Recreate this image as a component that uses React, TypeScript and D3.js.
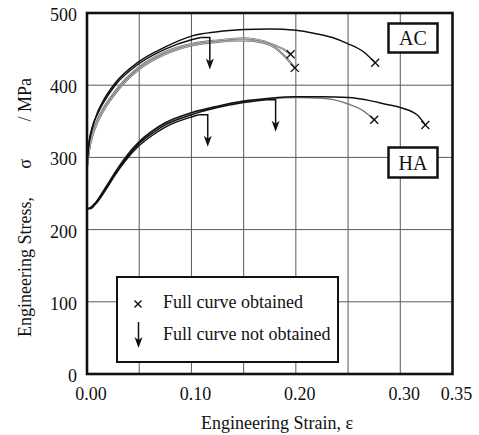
import React from "react";
import * as d3 from "d3";

type Pt = [number, number];

// ---- Data (strain, stress MPa) ----
const acFull1: Pt[] = [[0,292],[0.002,320],[0.005,340],[0.01,362],[0.015,377],[0.027,403],[0.049,432],[0.075,453],[0.1,468],[0.125,474],[0.15,477],[0.175,478],[0.2,476],[0.217,472],[0.235,466],[0.249,458],[0.265,446],[0.276,431]];
const acArrow1: Pt[] = [[0,295],[0.002,322],[0.005,342],[0.01,360],[0.015,374],[0.027,400],[0.049,429],[0.075,450],[0.1,463],[0.109,466]];
const acGray1: Pt[] = [[0,288],[0.002,312],[0.005,332],[0.01,352],[0.015,366],[0.03,397],[0.049,424],[0.075,446],[0.1,457],[0.125,462],[0.15,465],[0.169,461],[0.18,455],[0.188,450],[0.195,443]];
const acGray2: Pt[] = [[0,286],[0.002,310],[0.005,329],[0.01,349],[0.015,363],[0.03,394],[0.049,421],[0.075,443],[0.1,455],[0.125,460],[0.15,462],[0.169,459],[0.18,452],[0.192,436],[0.199,424]];

const haFull1: Pt[] = [[0,229],[0.003,230],[0.008,237],[0.017,256],[0.027,279],[0.036,298],[0.049,320],[0.062,336],[0.075,348],[0.1,362],[0.125,371],[0.15,378],[0.175,382],[0.2,384],[0.225,384],[0.25,383],[0.27,379],[0.285,374],[0.3,369],[0.316,359],[0.324,345]];
const haGray1: Pt[] = [[0,229],[0.003,230],[0.008,237],[0.017,257],[0.027,280],[0.036,299],[0.049,321],[0.062,336],[0.075,347],[0.1,361],[0.125,370],[0.15,377],[0.175,381],[0.2,383],[0.225,382],[0.236,380],[0.25,374],[0.265,364],[0.275,352]];
const haArrow1: Pt[] = [[0,229],[0.003,229],[0.008,235],[0.017,253],[0.027,276],[0.036,294],[0.049,315],[0.062,330],[0.075,342],[0.1,356],[0.107,359]];
const haArrow2: Pt[] = [[0,229],[0.003,230],[0.008,236],[0.017,255],[0.027,278],[0.036,296],[0.049,318],[0.062,333],[0.075,345],[0.1,359],[0.125,369],[0.15,376],[0.172,380]];

const xTicks = [0, 0.1, 0.2, 0.3, 0.35];
const xGrid = [0.05, 0.1, 0.15, 0.2, 0.25, 0.3];
const yTicks = [0, 100, 200, 300, 400, 500];

const xLabel = "Engineering Strain, \u03b5";
const yLabelParts = ["Engineering Stress,", "\u03c3", "/ MPa"];
const legendItems = ["Full curve obtained", "Full curve not obtained"];
const groupLabels = ["AC", "HA"];

// ---- Layout ----
const W = 479, H = 435;
const L = 87, R = 452.5, T = 13, B = 374;
const FONT = "Liberation Serif, Times New Roman, serif";

const x = d3.scaleLinear().domain([0, 0.35]).range([L, R]);
const y = d3.scaleLinear().domain([0, 500]).range([B, T]);
const line = d3.line<Pt>().x(d => x(d[0])).y(d => y(d[1])).curve(d3.curveMonotoneX);

function Cross({ cx, cy, s = 4 }: { cx: number; cy: number; s?: number }) {
  return (
    <g stroke="#111" strokeWidth={1.4}>
      <line x1={cx - s} y1={cy - s} x2={cx + s} y2={cy + s} />
      <line x1={cx - s} y1={cy + s} x2={cx + s} y2={cy - s} />
    </g>
  );
}

function ArrowHead({ ax, tip }: { ax: number; tip: number }) {
  return <path d={`M${ax},${tip} L${ax - 4},${tip - 11} L${ax},${tip - 8} L${ax + 4},${tip - 11} Z`} fill="#111" />;
}

function EndArrow({ pts }: { pts: Pt[] }) {
  const last = pts[pts.length - 1];
  const px = x(last[0]), py = y(last[1]);
  const ax = px + 9, tip = py + 32;
  return (
    <g>
      <path d={`M${px},${py} L${ax},${py} L${ax},${tip - 6}`} fill="none" stroke="#111" strokeWidth={1.5} />
      <ArrowHead ax={ax} tip={tip} />
    </g>
  );
}

function EndCross({ pts }: { pts: Pt[] }) {
  const last = pts[pts.length - 1];
  return <Cross cx={x(last[0])} cy={y(last[1])} />;
}

export default function App() {
  const blackCurves = [acFull1, acArrow1, haFull1, haArrow1, haArrow2];
  const doubleGray = [acGray1, acGray2];
  return (
    <svg width={W} height={H} style={{ position: "absolute", left: 0, top: 0, background: "#fff" }} fontFamily={FONT}>
      <rect x={0} y={0} width={W} height={H} fill="#fff" />
      {/* grid */}
      <g stroke="#5a5a5a" strokeWidth={1}>
        {xGrid.map(v => <line key={"gx" + v} x1={x(v)} x2={x(v)} y1={T} y2={B} />)}
        {yTicks.slice(1, -1).map(v => <line key={"gy" + v} x1={L} x2={R} y1={y(v)} y2={y(v)} />)}
      </g>
      {/* curves */}
      {doubleGray.map((c, i) => (
        <g key={"dg" + i}>
          <path d={line(c) || ""} fill="none" stroke="#707070" strokeWidth={2.1} />
          <path d={line(c) || ""} fill="none" stroke="#d8d8d8" strokeWidth={0.7} />
        </g>
      ))}
      <path d={line(haGray1) || ""} fill="none" stroke="#7a7a7a" strokeWidth={1.4} />
      {blackCurves.map((c, i) => (
        <path key={"bc" + i} d={line(c) || ""} fill="none" stroke="#111" strokeWidth={1.5} />
      ))}
      {/* end markers */}
      {[acFull1, acGray1, acGray2, haFull1, haGray1].map((c, i) => <EndCross key={"ec" + i} pts={c} />)}
      {[acArrow1, haArrow1, haArrow2].map((c, i) => <EndArrow key={"ea" + i} pts={c} />)}

      {/* group labels */}
      <g fontFamily={FONT}>
        <rect x={388.5} y={23.5} width={49} height={29} fill="#fff" stroke="#111" strokeWidth={2.5} />
        <text x={413} y={45} textAnchor="middle" fontSize={20} fill="#111">{groupLabels[0]}</text>
        <rect x={388.5} y={147.5} width={49} height={30} fill="#fff" stroke="#111" strokeWidth={2.5} />
        <text x={413} y={170} textAnchor="middle" fontSize={20} fill="#111">{groupLabels[1]}</text>
      </g>

      {/* legend */}
      <g fontFamily={FONT}>
        <rect x={117} y={277} width={221} height={85} fill="#fff" stroke="#111" strokeWidth={2} />
        <Cross cx={138} cy={304} s={3.5} />
        <text x={163} y={307.5} fontSize={18} fill="#111">{legendItems[0]}</text>
        <line x1={138.5} x2={138.5} y1={322} y2={342} stroke="#111" strokeWidth={1.5} />
        <ArrowHead ax={138.5} tip={348} />
        <text x={163} y={340} fontSize={18} fill="#111">{legendItems[1]}</text>
      </g>

      {/* frame */}
      <rect x={L} y={T} width={R - L} height={B - T} fill="none" stroke="#111" strokeWidth={2.6} />

      {/* tick labels */}
      <g fontSize={18} fill="#111" fontFamily={FONT}>
        {xTicks.map(v => (
          <text key={"xt" + v} x={x(v) + 4} y={400} textAnchor="middle">{v.toFixed(2)}</text>
        ))}
        {yTicks.map(v => (
          <text key={"yt" + v} x={77} y={y(v) + 8} textAnchor="end">{v}</text>
        ))}
      </g>

      {/* axis titles */}
      <text x={277} y={429} textAnchor="middle" fontSize={18} fill="#111" fontFamily={FONT}>{xLabel}</text>
      <g fontSize={18} fill="#111" fontFamily={FONT}>
        <text transform="translate(31,337) rotate(-90)" textAnchor="start">{yLabelParts[0]}</text>
        <text transform="translate(31,164) rotate(-90)" textAnchor="middle">{yLabelParts[1]}</text>
        <text transform="translate(31,78) rotate(-90)" textAnchor="end">{yLabelParts[2]}</text>
      </g>
    </svg>
  );
}
